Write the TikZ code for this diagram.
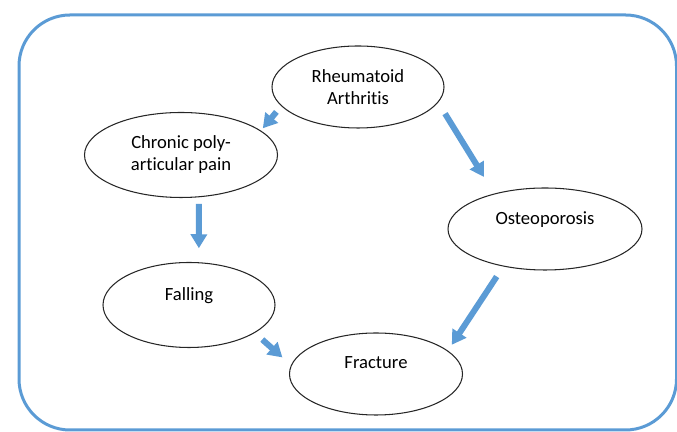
\documentclass[tikz,border=0pt]{standalone}
\usepackage{fontspec}
\setmainfont{Carlito}[Ligatures=CommonOff]
\usepackage{xcolor}
\usetikzlibrary{positioning,arrows.meta,shapes.geometric}
\definecolor{officeblue}{HTML}{5B9BD5}

\begin{document}
\begin{tikzpicture}[
    node distance=1cm, on grid,
    oval/.style={draw=black!85, ellipse, line width=0.6pt, inner sep=0pt,
      minimum width=3.44cm, minimum height=1.64cm, align=center,
      font=\fontsize{10.6}{12.5}\selectfont},
    arrow/.style={-{Triangle[length=0.28cm, width=0.32cm]}, line width=0.12cm,
      draw=officeblue, fill=officeblue},
    frame/.style={draw=officeblue, line width=0.06cm, rounded corners=1.02cm}
  ]
    \useasboundingbox (0,0) rectangle (13.54,8.64);
    \draw[frame] (0.38,0.04) rectangle (13.53,8.34);

    \node[oval] (ra) at (7.16,6.90) {Rheumatoid\\Arthritis};
    \node[oval, minimum width=3.86cm, minimum height=1.70cm,
      below left=1.36cm and 3.54cm of ra] (pain) {Chronic poly-\\articular pain};
    \node[oval, minimum width=3.88cm, below right=2.84cm and 3.74cm of ra] (osteo) {Osteoporosis\\\mbox{}};
    \node[oval, minimum height=1.70cm, below right=3.00cm and 0.16cm of pain] (falling) {Falling\\\mbox{}};
    \node[oval, minimum width=3.46cm, below right=1.38cm and 3.74cm of falling] (fracture) {Fracture\\\mbox{}};

    \draw[arrow, shorten <=0.15cm, shorten >=0.06cm] (ra.194) -- (pain.17);
    \draw[arrow, shorten <=0.26cm, shorten >=0.39cm] (ra.349) -- (osteo.145);
    \draw[arrow, shorten <=0.13cm, shorten >=0.28cm] (pain.293) -- (falling.77);
    \draw[arrow, shorten <=0.20cm, shorten >=0.23cm] (falling.337) -- (fracture.174);
    \draw[arrow, shorten <=0.24cm, shorten >=0.14cm] (osteo.222) -- (fracture.18);
\end{tikzpicture}
\end{document}
